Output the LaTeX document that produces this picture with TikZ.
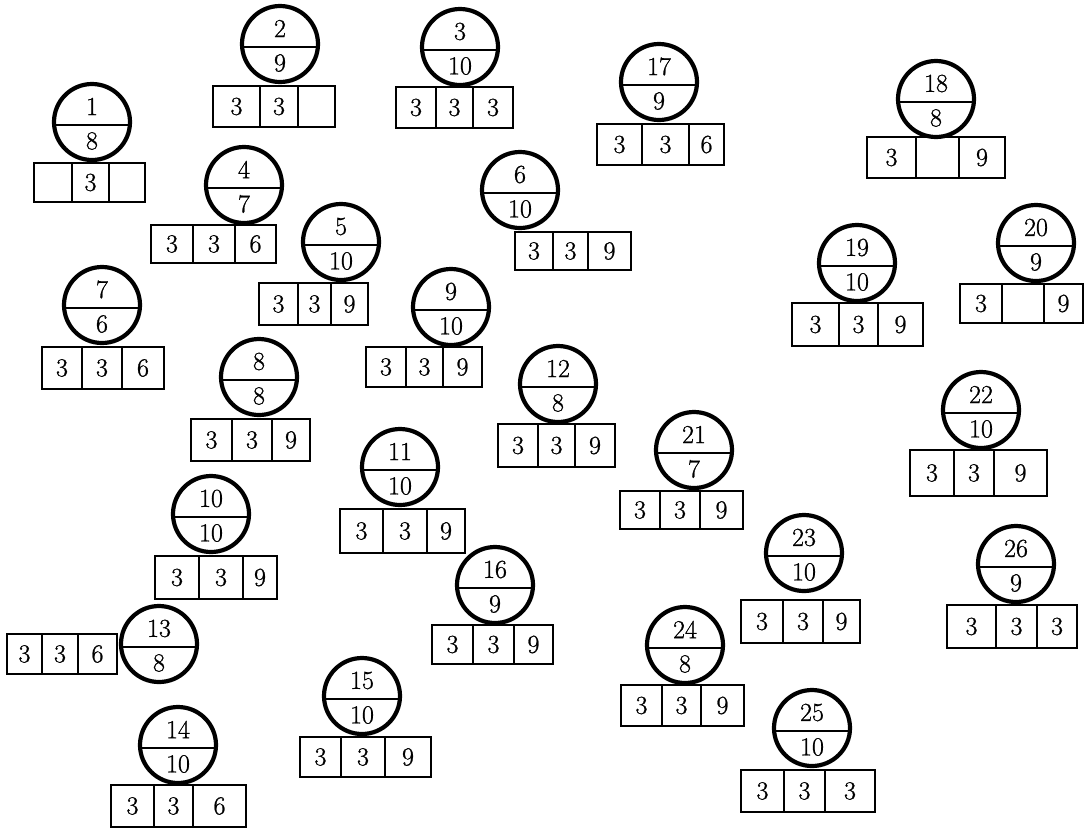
\documentclass[tikz,border=0pt]{standalone}
\usepackage{fontspec}
\newfontfamily\digitfont[FakeBold=0.9]{Latin Modern Roman}
\usepackage{tikz}

\begin{document}
\begin{tikzpicture}[x=1pt, y=-1pt, font=\digitfont\fontsize{26}{26}\selectfont,
    disc/.style={circle, draw, line width=4.2pt, minimum size=76pt, inner sep=0pt},
    cell/.style={draw, line width=1.6pt, inner sep=0pt},
    num/.style={inner sep=0pt}]
  \useasboundingbox (0,0) rectangle (1090,831);

  % Split circles: number on top, number below the bar
  \foreach \n/\cx/\cy/\up/\lo in {1/92/122/1/8, 2/280/44/2/9, 3/460/47/3/10, 4/244/185/4/7,
      5/341/242/5/10, 6/520/190/6/10, 7/102/305/7/6, 8/259/377/8/8, 9/451/307/9/10,
      10/211/514/10/10, 11/400/467/11/10, 12/558/384/12/8, 13/159/644/13/8,
      14/178/745/14/10, 15/362/696/15/10, 16/495/585/16/9, 17/659/82/17/9,
      18/936/99/18/8, 19/857/263/19/10, 20/1036/243/20/9, 21/694/450/21/7,
      22/981/410/22/10, 23/804/553/23/10, 24/685/645/24/8, 25/812/728/25/10,
      26/1016/564/26/9} {
    \node[disc] (c\n) at (\cx,\cy) {};
    \draw[line width=1.6pt] ([yshift=-3pt]c\n.west) -- ([yshift=-3pt]c\n.east);
    \node[num] (u\n) at (\cx,\cy-15.5) {\up};
    \node[num] (l\n) at (\cx,\cy+19) {\lo};
  }

  % Rows of three cells (left, two dividers, right, top, bottom, labels)
  \foreach \n/\xa/\xb/\xc/\xd/\ya/\yb/\la/\lb/\lc in {
      1/34/72/109/145/163/202/{}/3/{}, 2/213/260/298/335/86/127/3/3/{},
      3/396/436/473/513/87/128/3/3/3, 4/151/193/235/276/225/263/3/3/6,
      5/259/298/331/368/283/325/3/3/9, 6/515/553/588/631/232/270/3/3/9,
      7/42/82/122/164/347/389/3/3/6, 8/191/232/272/310/419/461/3/3/9,
      9/366/406/443/482/347/387/3/3/9, 10/155/199/243/277/556/599/3/3/9,
      11/340/383/427/465/509/553/3/3/9, 12/498/538/575/615/424/467/3/3/9,
      13/7/42/78/117/634/674/3/3/6, 14/111/154/193/246/785/827/3/3/6,
      15/300/341/385/431/737/777/3/3/9, 16/432/473/514/553/625/664/3/3/9,
      17/597/642/689/724/124/165/3/3/6, 18/867/916/959/1005/137/178/3/{}/9,
      19/792/839/878/923/303/346/3/3/9, 20/960/1002/1044/1083/284/323/3/{}/9,
      21/620/660/700/743/491/529/3/3/9, 22/910/954/994/1047/450/496/3/3/9,
      23/741/783/823/860/600/643/3/3/9, 24/621/662/701/744/685/726/3/3/9,
      25/741/784/825/875/770/812/3/3/3, 26/947/996/1037/1077/605/648/3/3/3} {
    \node[cell, minimum width=\xb-\xa, minimum height=\yb-\ya] (b\n a) at ({(\xa+\xb)/2},{(\ya+\yb)/2}) {\la};
    \node[cell, minimum width=\xc-\xb, minimum height=\yb-\ya] (b\n b) at ({(\xb+\xc)/2},{(\ya+\yb)/2}) {\lb};
    \node[cell, minimum width=\xd-\xc, minimum height=\yb-\ya] (b\n c) at ({(\xc+\xd)/2},{(\ya+\yb)/2}) {\lc};
  }
\end{tikzpicture}
\end{document}
